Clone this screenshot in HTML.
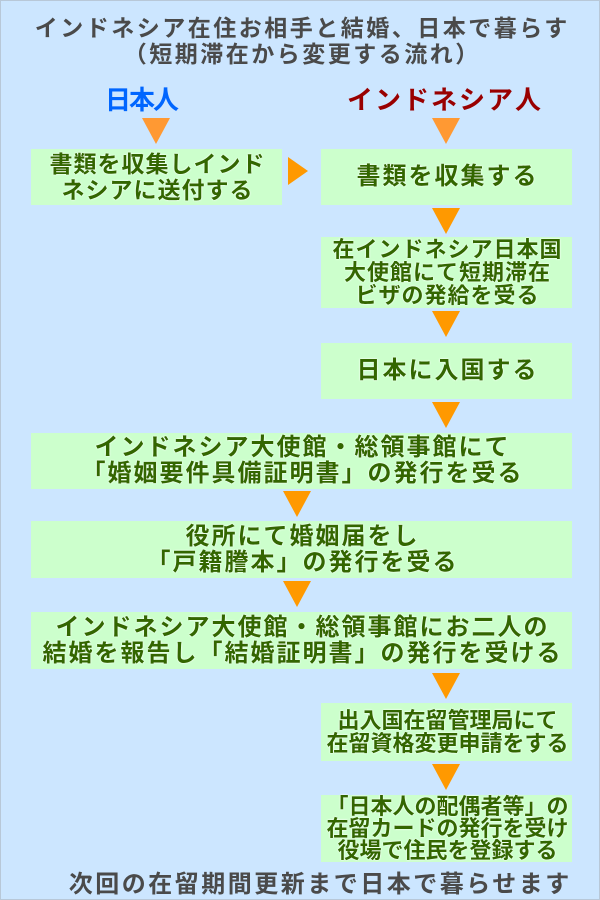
<!DOCTYPE html>
<html><head><meta charset="utf-8"><style>
*{margin:0;padding:0;box-sizing:border-box}
body{width:600px;height:900px;background:#cce6ff;position:relative;overflow:hidden;font-family:"Liberation Sans","Noto Sans CJK JP",sans-serif;font-weight:bold;border:1px solid #b8c8d8}
.t{position:absolute;left:0;width:600px;text-align:center;color:#4a4a4a;font-size:23px;line-height:26px;letter-spacing:2.5px;padding-left:2.5px}
.b{position:absolute;background:#ccffcc;color:#336600;font-size:24px;line-height:26px;letter-spacing:2px;padding-left:2px;display:flex;align-items:center;justify-content:center;text-align:center;text-shadow:0 0 2px #fff,0 0 1px #fff;white-space:nowrap}
.a{position:absolute;width:0;height:0;border-left:14px solid transparent;border-right:14px solid transparent;border-top:26px solid #ff9900}
.ao{border-top-color:#ff9933}
.L{left:30px;width:251px}.R{left:320px;width:251px}.W{left:30px;width:541px}
.s{font-size:22px;letter-spacing:1px;line-height:23px}
</style></head><body>
<div class="t" style="top:14px">インドネシア在住お相手と結婚、日本で暮らす</div>
<div class="t" style="top:40px">（短期滞在から変更する流れ）</div>
<div style="position:absolute;left:104px;top:79px;font-size:26px;color:#0066ff;letter-spacing:-2px">日本人</div>
<div style="position:absolute;left:346px;top:79px;font-size:26px;color:#990000;letter-spacing:2px">インドネシア人</div>
<div class="a ao" style="left:141px;top:117px"></div>
<div class="a ao" style="left:431px;top:117px"></div>
<div class="b L" style="top:148px;height:56px;font-size:23px;letter-spacing:1px">書類を収集しインド<br>ネシアに送付する</div>
<div style="position:absolute;left:287px;top:156px;width:0;height:0;border-top:14px solid transparent;border-bottom:14px solid transparent;border-left:20px solid #ff9900"></div>
<div class="b R" style="top:148px;height:56px">書類を収集する</div>
<div class="a" style="left:431px;top:207px"></div>
<div class="b R s" style="top:236px;height:71px">在インドネシア日本国<br>大使館にて短期滞在<br>ビザの発給を受る</div>
<div class="a" style="left:431px;top:310px"></div>
<div class="b R" style="top:342px;height:56px">日本に入国する</div>
<div class="a" style="left:431px;top:401px"></div>
<div class="b W" style="top:432px;height:56px">インドネシア大使館・総領事館にて<br>「婚姻要件具備証明書」の発行を受る</div>
<div class="a" style="left:282px;top:490px"></div>
<div class="b W" style="top:520px;height:57px">役所にて婚姻届をし<br>「戸籍謄本」の発行を受る</div>
<div class="a" style="left:282px;top:580px"></div>
<div class="b W" style="top:611px;height:57px">インドネシア大使館・総領事館にお二人の<br>結婚を報告し「結婚証明書」の発行を受ける</div>
<div class="a" style="left:431px;top:672px"></div>
<div class="b R s" style="top:702px;height:58px;letter-spacing:0">出入国在留管理局にて<br>在留資格変更申請をする</div>
<div class="a" style="left:431px;top:763px"></div>
<div class="b R s" style="top:794px;height:67px;letter-spacing:0;line-height:22px">「日本人の配偶者等」の<br>在留カードの発行を受け<br>役場で住民を登録する</div>
<div class="t" style="top:871px;left:18px;font-size:24px;letter-spacing:2.5px">次回の在留期間更新まで日本で暮らせます</div>
</body></html>
